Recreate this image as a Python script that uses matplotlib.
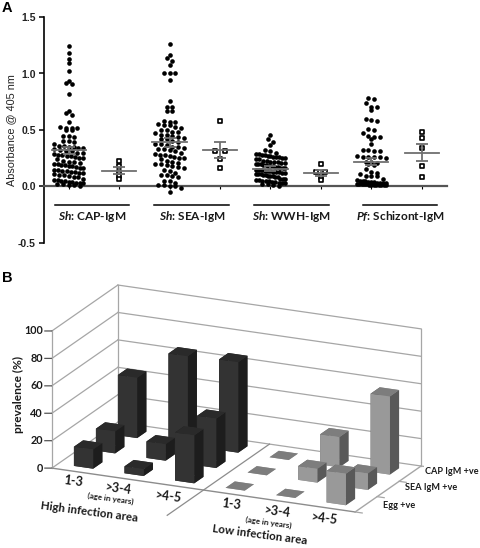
import matplotlib
matplotlib.use("Agg")
import matplotlib.pyplot as plt
import numpy as np

plt.rcParams['font.family'] = ['Lato', 'DejaVu Sans']
plt.rcParams['mathtext.fontset'] = 'custom'
plt.rcParams['mathtext.it'] = 'Lato:italic:bold'
plt.rcParams['mathtext.rm'] = 'Lato:bold'

# panel A, values
cap_ch = [1.24, 1.18, 1.125, 1.09, 1.02, .93, .92, .905, .82, .67, .65, .635, .575,
          .53, .52, .52, .52, .50, .50, .45, .45, .44, .40, .40, .39, .38, .36, .36, .35, .35,
          .34, .34, .33, .32, .31, .31, .30, .30, .29, .28, .28, .27, .27, .26, .25, .25,
          .24, .23, .22, .22, .21, .20, .20, .19, .19, .18, .18, .17, .16, .16, .15, .15,
          .14, .14, .13, .13, .12, .12, .11, .10, .10, .09, .08, .08, .07, .06, .06, .05,
          .05, .04, .04, .03, .03, .03, .02, .02, .01, .01, .00]
cap_ctl = [.23, .18, .13, .09, .065]
sea_ch = [1.265, 1.165, 1.14, 1.11, 1.075, 1.0, 1.0, 1.0, .945, .755, .705, .70, .665, .665,
          .58, .575, .575, .55, .54, .54, .53, .52, .50, .50, .48, .48, .47, .46, .46, .45,
          .44, .43, .42, .42, .40, .39, .38, .38, .37, .35, .35, .34, .33, .33, .32, .31,
          .30, .29, .28, .28, .27, .26, .25, .25, .24, .23, .22, .21, .20, .20, .19, .18,
          .17, .16, .15, .14, .12, .10, .10, .09, .08, .05, .05, .03, .01, .01, .00, .00,
          -.01, -.05]
sea_ctl = [.58, .31, .31, .245, .16]
wwh_ch = [.455, .42, .39, .37, .32, .31, .30, .29, .29, .28, .28, .27, .27, .26, .26, .26,
          .25, .25, .24, .24, .23, .23, .22, .22, .22, .21, .21, .20, .20, .20, .19, .19,
          .18, .18, .18, .17, .17, .16, .16, .16, .15, .15, .15, .14, .14, .14, .13, .13,
          .13, .12, .12, .11, .11, .11, .10, .10, .09, .09, .09, .08, .08, .07, .07, .07,
          .06, .06, .05, .05, .05, .04, .04, .03, .03, .03, .02, .02, .01, .00]
wwh_ctl = [.20, .125, .125, .08, .06]
pf_ch = [.785, .77, .735, .705, .70, .675, .60, .59, .58, .51, .50, .47, .45, .44, .44, .42,
         .375, .325, .32, .31, .31, .27, .26, .26, .26, .26, .25, .22, .22, .21, .20, .19,
         .155, .125, .12, .11, .09, .09, .09, .07, .06, .05, .05, .05, .04, .04, .04, .03,
         .03, .03, .03, .02, .02, .02, .02, .02, .01, .01, .01, .01, .01, .01, .01, .01]
pf_ctl = [.48, .425, .345, .185, .085]

columns = [cap_ch, cap_ctl, sea_ch, sea_ctl, wwh_ch, wwh_ctl, pf_ch, pf_ctl]
means = [.32, .14, .39, .325, .155, .12, .22, .30]
sems = [.03, .03, .037, .07, .022, .025, .033, .075]
antigens = ["$\\mathit{Sh}$: CAP-IgM", "$\\mathit{Sh}$: SEA-IgM", "$\\mathit{Sh}$: WWH-IgM", "$\\mathit{Pf}$: Schizont-IgM"]
bracket_lo = [-.28, 1.70, 3.68, 5.83]
bracket_hi = [1.20, 3.18, 5.16, 7.30]

# panel B, prevalence (%) by area/age (x) and marker (y)
ages = ["1-3", ">3-4", ">4-5", "1-3", ">3-4", ">4-5"]
markers = ["Egg +ve", "SEA IgM +ve", "CAP IgM +ve"]
egg_prev = [14, 5, 35, 0, 0, 23]
sea_prev = [16, 12, 36, 0, 10, 12]
cap_prev = [44, 65, 66, 0, 22, 57]
zticks = [0, 20, 40, 60, 80, 100]


def swarm_x(vals, centre, binw=.045, step=.113, maxw=.58):
    vals = np.asarray(vals)
    bins = np.round(vals / binw)
    xs = np.zeros(len(vals))
    for b in np.unique(bins):
        idx = np.where(bins == b)[0]
        n = len(idx)
        st = min(step, maxw / max(n - 1, 1))
        xs[idx] = centre + st * (np.arange(n) - (n - 1) / 2)
    return xs


W, H = 480, 548
fig = plt.figure(figsize=(W / 100, H / 100), dpi=100)


def pxtext(x, y, s, **kw):
    # reference pixel position, origin top left
    kw.setdefault('ha', 'center')
    kw.setdefault('va', 'center')
    kw.setdefault('color', '#1a1a1a')
    fig.text(x / W, 1 - y / H, s, **kw)


# ---- panel B first, its axes box runs under panel A ----
ax3 = fig.add_axes([38.8 / W, 1 - 596.2 / H, 385 / W, 385 / H], projection='3d', proj_type='ortho',
                   computed_zorder=False)
ax3.patch.set_visible(False)
ax3.view_init(elev=18.5, azim=-65.5)
ax3.set_box_aspect((333, 159, 144.5))
ax3.set_xlim(-.5, 5.5, view_margin=0)
ax3.set_ylim(-.5, 2.5, view_margin=0)
ax3.set_zlim(0, 100, view_margin=0)
ax3.set_axis_off()

x0, x1, y0, y1 = -.5, 5.5, -.5, 2.5
wall = '#a6a6a6'
for z in zticks:
    ax3.plot([x0, x1], [y1, y1], [z, z], color=wall, lw=.9, zorder=1)
    ax3.plot([x0, x0], [y0, y1], [z, z], color=wall, lw=.9, zorder=1)
    ax3.plot([x0 - .115, x0], [y0 - .055, y0], [z, z], color='#555555', lw=.9, zorder=1)
    pxtext(43, 468 - 1.37 * z, str(z), ha='right', fontsize=7.8, fontweight='bold')
for xe, ye in [(x0, y0), (x0, y1), (x1, y1)]:
    ax3.plot([xe, xe], [ye, ye], [0, 100], color=wall, lw=.9, zorder=1)
ax3.plot([x0, x1], [y0, y0], [0, 0], color='#8c8c8c', lw=1, zorder=1)
ax3.plot([x1, x1], [y0, y1], [0, 0], color=wall, lw=1, zorder=1)
ax3.plot([2.5, 2.5], [-2.15, y1], [0, 0], color='#8c8c8c', lw=.9, zorder=1)
for yb in [-.5, .5, 1.5, 2.5]:
    ax3.plot([x1, x1 + .14], [yb, yb], [0, 0], color=wall, lw=.9, zorder=1)

dark = ['#333333', '#2a2a2a', '#333333', '#333333', '#1d1d1d', '#1d1d1d']
light = ['#999999', '#7d7d7d', '#999999', '#999999', '#595959', '#595959']
rows = [egg_prev, sea_prev, cap_prev]
bw, bd = .38, .42
order = 0
for j in [2, 1, 0]:
    for i in range(6):
        ax3.bar3d(i - bw / 2, j - bd / 2, 0, bw, bd, rows[j][i], color=dark if i < 3 else light,
                  shade=False, edgecolor='none', zorder=5 + order)
        order += 1

# ---- panel A ----
ax = fig.add_axes([43.5 / W, 1 - 243 / H, (447 - 43.5) / W, (243 - 17) / H])
ax.set_xlim(-.5, 7.5)
ax.set_ylim(-.5, 1.5)
ax.patch.set_alpha(0)
for s in ['top', 'right']:
    ax.spines[s].set_visible(False)
ax.spines['bottom'].set_position(('data', 0))
ax.spines['bottom'].set_color('#555555')
ax.spines['bottom'].set_linewidth(1.6)
ax.spines['left'].set_linewidth(1.2)
ax.set_xticks(range(8))
ax.set_xticklabels([])
ax.tick_params(axis='x', length=2.5, width=.8, direction='out')
ax.set_yticks([-.5, 0, .5, 1, 1.5])
ax.set_yticklabels(['-0.5', '0.0', '0.5', '1.0', '1.5'], fontfamily='Liberation Sans', fontweight='bold', fontsize=7.5, color='#222222')
ax.tick_params(axis='y', length=3.5, width=1.1, pad=2)
ax.set_ylabel("Absorbance @ 405 nm", fontfamily='Liberation Sans', fontsize=7.8, color='#222222', labelpad=1)

for i, vals in enumerate(columns):
    if i % 2 == 0:
        ax.scatter(swarm_x(vals, i), vals, s=11, c='black', linewidths=0, zorder=3, clip_on=False)
    else:
        ax.scatter(swarm_x(vals, i, binw=.03, step=.18), vals, s=9, marker='s', facecolors='white',
                   edgecolors='black', linewidths=1.2, zorder=3)
    ax.plot([i - .34, i + .34], [means[i]] * 2, color='#707070', lw=1.3, zorder=4)
    ax.errorbar(i, means[i], yerr=sems[i], color='#707070', lw=1.3, capsize=4.5, capthick=1.3, zorder=4)

for k in range(4):
    ax.plot([bracket_lo[k], bracket_hi[k]], [-.16, -.16], color='black', lw=1.1, clip_on=False)
    ax.text((bracket_lo[k] + bracket_hi[k]) / 2, -.265, antigens[k], ha='center', va='center',
            fontsize=8.6, fontweight='bold', color='#1a1a1a')

pxtext(7, 8, "A", fontfamily='Liberation Sans', fontweight='bold', fontsize=10.5, color='black')
pxtext(7, 278, "B", fontfamily='Liberation Sans', fontweight='bold', fontsize=10.5, color='black')

lab = dict(fontweight='bold')
pxtext(18, 394, "prevalence (%)", rotation=90, fontsize=8.6, **lab)
pxtext(73, 481, ages[0], rotation=-7, fontsize=9, **lab)
pxtext(118, 489, ages[1], rotation=-7, fontsize=9, **lab)
pxtext(168, 497, ages[2], rotation=-7, fontsize=9, **lab)
pxtext(231, 504, ages[3], rotation=-7, fontsize=9, **lab)
pxtext(277, 512, ages[4], rotation=-7, fontsize=9, **lab)
pxtext(324, 519, ages[5], rotation=-7, fontsize=9, **lab)
pxtext(110, 499, "(age in years)", rotation=-8, fontsize=5.8, **lab)
pxtext(268, 523, "(age in years)", rotation=-8, fontsize=5.8, **lab)
pxtext(89, 512, "High infection area", rotation=-7.5, fontsize=8.3, **lab)
pxtext(260, 535, "Low infection area", rotation=-7.5, fontsize=8.3, **lab)
pxtext(399, 505, markers[0], fontsize=6.6, **lab)
pxtext(431, 488, markers[1], fontsize=6.6, **lab)
pxtext(452, 472, markers[2], fontsize=6.6, **lab)

fig.savefig("out.png", dpi=100)
